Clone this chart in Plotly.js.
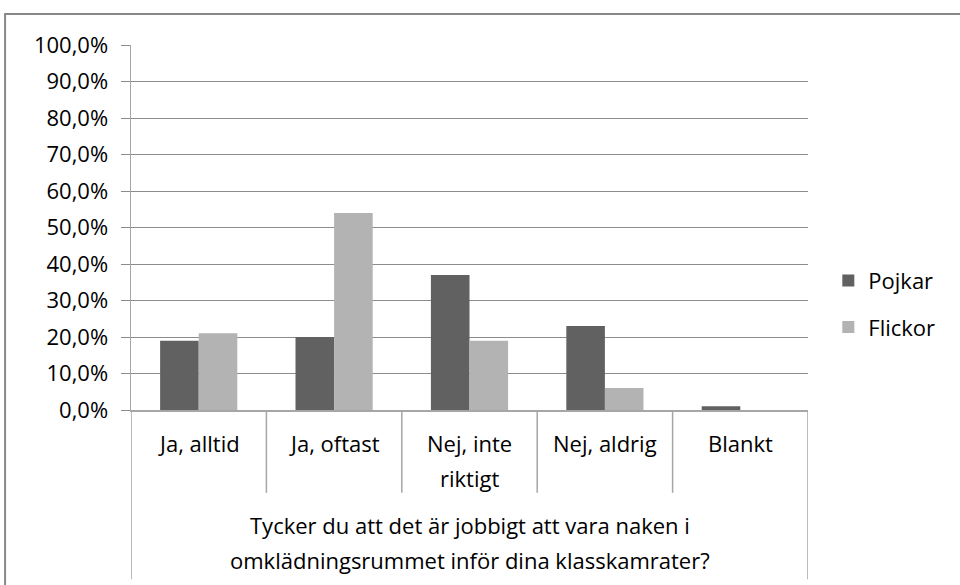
<!DOCTYPE html>
<html>
<head>
<meta charset="utf-8">
<script src="https://cdn.plot.ly/plotly-3.0.1.min.js"></script>
<style>
  html, body { margin: 0; padding: 0; background: #fff; }
  #chart { width: 960px; height: 585px; }
</style>
</head>
<body>
<div id="chart"></div>
<script>
const categories = ["Ja, alltid", "Ja, oftast", "Nej, inte<br>riktigt", "Nej, aldrig", "Blankt"];
const pojkar = [0.19, 0.20, 0.37, 0.23, 0.01];
const flickor = [0.21, 0.54, 0.19, 0.06, 0.0];
const seriesNames = ["Pojkar", "Flickor"];
const axisTitleLines = ["Tycker du att det är jobbigt att vara naken i", "omklädningsrummet inför dina klasskamrater?"];

const FONT = "Open Sans, sans-serif";
const FS = 22;
const lineGray = "#a6a6a6";
const LINE_STEP = 35 / 365; // paper units per text line

const xIdx = categories.map((c, i) => i);

const traces = [
  { type: "bar", name: seriesNames[0], legendgroup: "a", x: xIdx, y: pojkar,
    marker: { color: "#616161", line: { width: 0 } }, hoverinfo: "none" },
  { type: "bar", name: seriesNames[1], legendgroup: "b", x: xIdx, y: flickor,
    marker: { color: "#b3b3b3", line: { width: 0 } }, hoverinfo: "none" }
];

const shapes = [];
// outer chart frame
shapes.push({ type: "rect", xref: "paper", yref: "paper", x0: -0.186, x1: 2, y0: -2, y1: 1.085,
  line: { color: "#888888", width: 2 }, fillcolor: "rgba(0,0,0,0)", layer: "below" });
// category dividers
for (let i = 0; i <= categories.length; i++) {
  const outer = (i === 0 || i === categories.length);
  shapes.push({ type: "line", xref: "x", yref: "paper", x0: i - 0.5, x1: i - 0.5,
    y0: 0, y1: outer ? -0.464 : -0.227, line: { color: lineGray, width: 1.5 } });
}

const annotations = [];
categories.forEach((c, i) => {
  c.split("<br>").forEach((ln, k) => {
    annotations.push({
      x: i, xref: "x", y: -0.0904 - k * LINE_STEP, yref: "paper", yanchor: "middle", xanchor: "center",
      text: ln, showarrow: false, font: { family: FONT, size: FS, color: "#000" }
    });
  });
});
axisTitleLines.forEach((ln, k) => {
  annotations.push({
    x: 0.5, xref: "paper", y: -0.315 - k * LINE_STEP, yref: "paper", yanchor: "middle", xanchor: "center",
    text: ln, showarrow: false, font: { family: FONT, size: FS, color: "#000" }
  });
});

const layout = {
  width: 960, height: 585,
  margin: { l: 131, r: 152, t: 45, b: 175 },
  paper_bgcolor: "#fff", plot_bgcolor: "#fff",
  separators: ", ",
  font: { family: FONT, size: FS, color: "#000" },
  barmode: "group", bargap: 0.43, bargroupgap: 0,
  showlegend: true,
  legend: { x: 1.03, y: 0.29, xanchor: "left", yanchor: "middle", font: { family: FONT, size: FS },
    tracegroupgap: 15, itemwidth: 30 },
  xaxis: { type: "linear", range: [-0.5, categories.length - 0.5], showticklabels: false,
    showgrid: false, zeroline: false, showline: true, linecolor: lineGray, linewidth: 1.5, ticks: "", fixedrange: true },
  yaxis: { range: [0, 1], dtick: 0.1, tick0: 0, tickformat: ".1%", showgrid: true,
    gridcolor: "#8c8c8c", gridwidth: 1, zeroline: false, showline: true, linecolor: lineGray, linewidth: 1.5,
    ticks: "outside", ticklen: 9, tickcolor: "#8c8c8c", tickfont: { family: FONT, size: FS, color: "#000" },
    ticklabelstandoff: 8, fixedrange: true },
  shapes: shapes,
  annotations: annotations
};

Plotly.newPlot("chart", traces, layout, { staticPlot: true, displayModeBar: false });
</script>
</body>
</html>
